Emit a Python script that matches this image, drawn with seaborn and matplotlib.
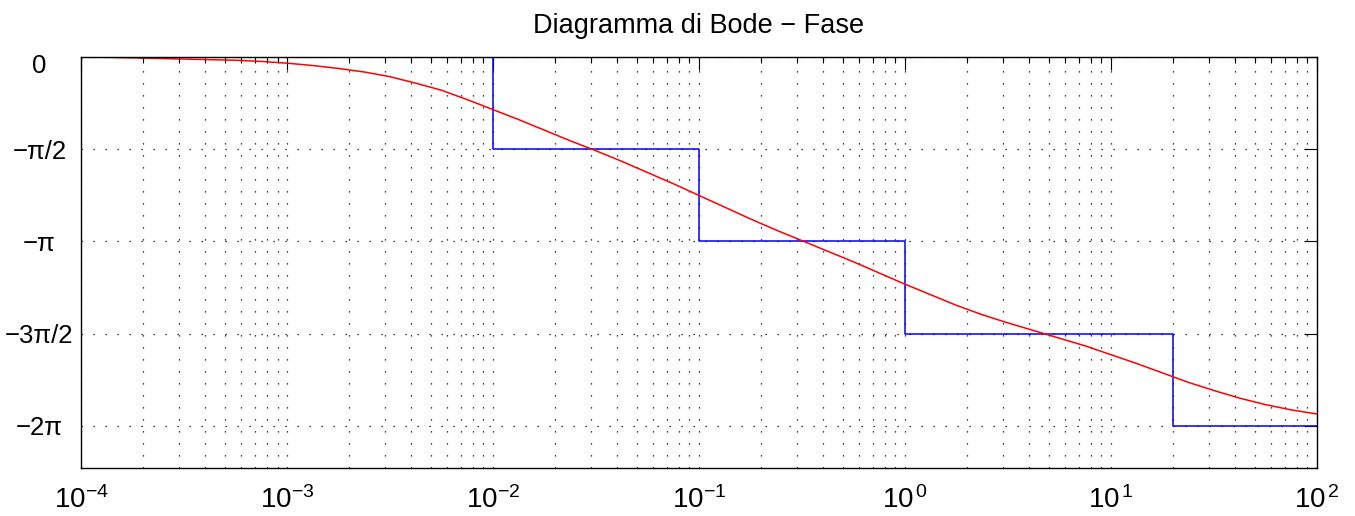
import numpy as np
import matplotlib
matplotlib.use("Agg")
import matplotlib.pyplot as plt
import matplotlib.transforms as mtransforms
from matplotlib.ticker import LogLocator, NullFormatter, FixedLocator
import seaborn as sns

# esponenti delle pulsazioni campionate (w = 10**esp)
esponenti = [-4, -3.875, -3.75, -3.625, -3.5, -3.375, -3.25, -3.125,
             -3, -2.875, -2.75, -2.625, -2.5, -2.375, -2.25, -2.125,
             -2, -1.875, -1.75, -1.625, -1.5, -1.375, -1.25, -1.125,
             -1, -0.875, -0.75, -0.625, -0.5, -0.375, -0.25, -0.125,
             0, 0.125, 0.25, 0.375, 0.5, 0.625, 0.75, 0.875,
             1, 1.125, 1.25, 1.375, 1.5, 1.625, 1.75, 1.875, 2]
# fase reale (rad)
fase_reale = [-0.01, -0.01, -0.02, -0.03, -0.04, -0.05, -0.06, -0.08,
              -0.11, -0.15, -0.20, -0.26, -0.34, -0.45, -0.57, -0.73,
              -0.90, -1.07, -1.25, -1.43, -1.60, -1.78, -1.97, -2.16,
              -2.36, -2.56, -2.76, -2.95, -3.13, -3.31, -3.49, -3.68,
              -3.87, -4.05, -4.23, -4.39, -4.53, -4.66, -4.79, -4.92,
              -5.07, -5.22, -5.38, -5.54, -5.68, -5.81, -5.92, -6.01, -6.08]

# diagramma asintotico
omega_asint = [1e-4, 1e-2, 1e-1, 1e0, 2e1, 1e2]
fase_asint = [0, -np.pi / 2, -np.pi, -3 * np.pi / 2, -2 * np.pi, -2 * np.pi]

yticks = [-2 * np.pi, -3 * np.pi / 2, -np.pi, -np.pi / 2, 0]
ytick_labels = ["\u22122\u03c0", "\u22123\u03c0/2", "\u2212\u03c0", "\u2212\u03c0/2", "0"]
xtick_exp = [-4, -3, -2, -1, 0, 1, 2]
xtick_labels = ["$10^{\u2212%d}$" % -e if e < 0 else "$10^{\\,%d}$" % e for e in xtick_exp]

omega = [10.0 ** e for e in esponenti]

sns.set_style("white")
plt.rcParams["font.family"] = ["Liberation Sans", "DejaVu Sans"]
plt.rcParams["mathtext.fontset"] = "custom"
plt.rcParams["mathtext.rm"] = "Liberation Sans"
plt.rcParams["mathtext.it"] = "Liberation Sans:italic"
plt.rcParams["mathtext.default"] = "regular"
plt.rcParams["text.color"] = "black"
plt.rcParams["xtick.color"] = "black"
plt.rcParams["ytick.color"] = "black"

fig = plt.figure(figsize=(13.55, 5.16), dpi=100)
ax = fig.add_axes([0.0598, 0.0930, 0.9119, 0.7971])

sns.lineplot(x=omega_asint, y=fase_asint, drawstyle="steps-post", color="#0000ff",
             lw=1.1, ax=ax, sort=False)
sns.lineplot(x=omega, y=fase_reale, color="#ff0000", lw=1.1, ax=ax, sort=False)

ax.set_xscale("log")
ax.set_xlim(1e-4, 1e2)
ax.set_ylim(-7, 0)

ax.set_xticks([10.0 ** e for e in xtick_exp])
ax.set_xticklabels(xtick_labels)
ax.xaxis.set_minor_locator(LogLocator(base=10, subs=range(2, 10), numticks=100))
ax.xaxis.set_minor_formatter(NullFormatter())
ax.yaxis.set_major_locator(FixedLocator(yticks))
ax.set_yticklabels(ytick_labels)

dots = (0, (1.0, 8.6))
ax.grid(True, which="both", axis="x", linestyle=dots, color="black", lw=0.9)
ax.grid(True, which="major", axis="y", linestyle=dots, color="black", lw=0.9)

ax.tick_params(which="both", direction="in", top=True, right=True, color="black",
               labelcolor="black")
ax.tick_params(which="major", length=9.5, width=0.8)
ax.tick_params(which="minor", length=4.5, width=0.8)
ax.tick_params(axis="x", labelsize=20, pad=13)
ax.tick_params(axis="y", labelsize=18.5, pad=30)

for s in ax.spines.values():
    s.set_visible(True)
    s.set_color("black")
    s.set_linewidth(1.0)

for lab in ax.get_yticklabels():
    lab.set_horizontalalignment("center")

# l'etichetta "0" in alto e' spostata un po' in basso
lab0 = ax.get_yticklabels()[-1]
lab0.set_transform(lab0.get_transform() + mtransforms.ScaledTranslation(0, -7 / 100, fig.dpi_scale_trans))

ax.set_title("Diagramma di Bode \u2212 Fase", fontsize=19.5, pad=17)

fig.savefig("out.png", dpi=100)
